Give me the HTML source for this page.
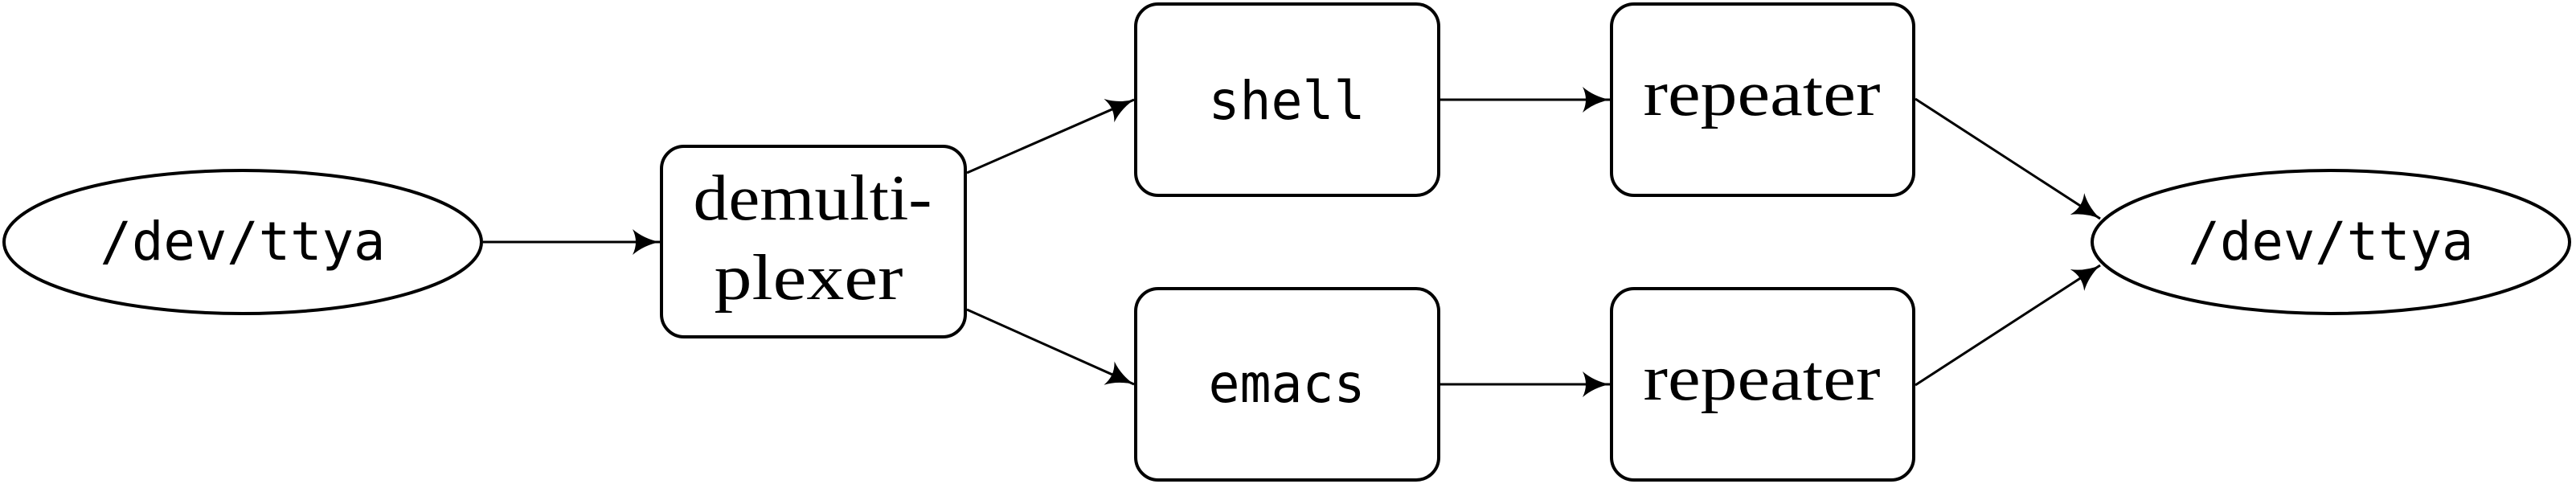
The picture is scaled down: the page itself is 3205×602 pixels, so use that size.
<!DOCTYPE html>
<html><head><meta charset="utf-8"><style>html,body{margin:0;padding:0;background:#fff}svg{display:block}</style></head>
<body>
<svg width="3205" height="602" viewBox="0 0 3205 602" xmlns="http://www.w3.org/2000/svg">
<defs>
<marker id="a" markerUnits="userSpaceOnUse" markerWidth="40" markerHeight="34" refX="34" refY="17" orient="auto">
<path d="M0,1 Q14,13 34,17 Q14,21 0,33 Q8,17 0,1Z" fill="#000"/>
</marker>
</defs>
<g fill="none" stroke="#000" stroke-width="4">
<ellipse cx="302" cy="301" rx="297" ry="89"/>
<ellipse cx="2900" cy="301" rx="297" ry="89"/>
<rect x="823" y="182" width="378" height="237" rx="28"/>
<rect x="1413" y="5" width="377" height="238" rx="28"/>
<rect x="1413" y="359" width="377" height="238" rx="28"/>
<rect x="2005" y="5" width="376" height="238" rx="28"/>
<rect x="2005" y="359" width="376" height="238" rx="28"/>
</g>
<g fill="none" stroke="#000" stroke-width="3" marker-end="url(#a)">
<line x1="601" y1="301" x2="821" y2="301"/>
<line x1="1203" y1="215" x2="1411" y2="124"/>
<line x1="1203" y1="385" x2="1411" y2="478"/>
<line x1="1792" y1="124" x2="2003" y2="124"/>
<line x1="1792" y1="478" x2="2003" y2="478"/>
<line x1="2383" y1="123" x2="2613" y2="272"/>
<line x1="2383" y1="479" x2="2613" y2="330"/>
</g>
<g font-family="'DejaVu Sans Mono','Liberation Mono',monospace" font-size="66" text-anchor="middle" fill="#000">
<text x="302" y="323" textLength="355" lengthAdjust="spacingAndGlyphs">/dev/ttya</text>
<text x="2900" y="323" textLength="355" lengthAdjust="spacingAndGlyphs">/dev/ttya</text>
<text x="1601" y="148" textLength="195" lengthAdjust="spacingAndGlyphs">shell</text>
<text x="1601" y="500" textLength="195" lengthAdjust="spacingAndGlyphs">emacs</text>
</g>
<g font-family="'Liberation Serif',serif" font-size="80" text-anchor="middle" fill="#000">
<text x="1011" y="273" textLength="297" lengthAdjust="spacingAndGlyphs">demulti-</text>
<text x="1006" y="372" textLength="235" lengthAdjust="spacingAndGlyphs">plexer</text>
<text x="2192" y="143" textLength="295" lengthAdjust="spacingAndGlyphs">repeater</text>
<text x="2192" y="497" textLength="295" lengthAdjust="spacingAndGlyphs">repeater</text>
</g>
</svg>
</body></html>
